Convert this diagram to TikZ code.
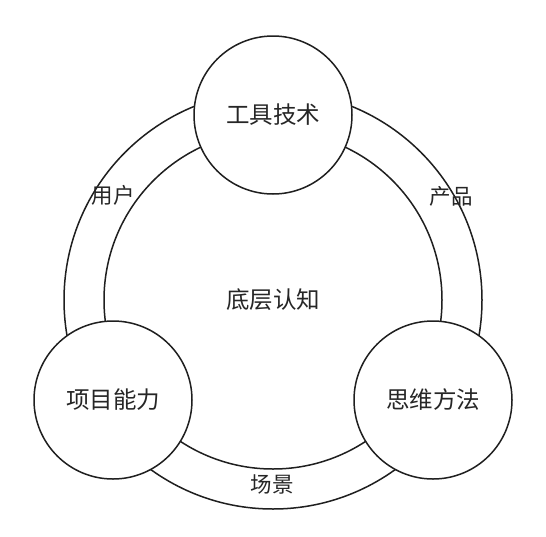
\documentclass[tikz,border=0pt]{standalone}
\usepackage{fontspec}
\setmainfont{Noto Sans CJK SC}
\begin{document}
\begin{tikzpicture}[x=1pt,y=-1pt,
  ringline/.style={circle,draw=black!88,line width=1.5pt,inner sep=0pt},
  bubble/.style={circle,draw=black!88,line width=1.5pt,fill=white,minimum size=158pt,inner sep=0pt,font=\fontsize{23.5}{25}\selectfont,text=black!85},
  lbl/.style={font=\fontsize{21.5}{23}\selectfont,text=black!85,inner sep=0pt}]
\useasboundingbox[fill=white] (0,0) rectangle (546,536);
\node[ringline,minimum size=418pt] (outer) at (273,300) {};
\node[ringline,minimum size=338pt,font=\fontsize{23.5}{25}\selectfont,text=black!85] (inner) at (273,300) {底层认知};
\node[bubble] (top) at (273,115) {工具技术};
\node[bubble] (left) at (113,400) {项目能力};
\node[bubble] (right) at (433,400) {思维方法};
\node[lbl] (user) at (113,195) {用户};
\node[lbl] (prod) at (451,196) {产品};
\node[lbl] (scene) at (272,484) {场景};
\end{tikzpicture}
\end{document}
